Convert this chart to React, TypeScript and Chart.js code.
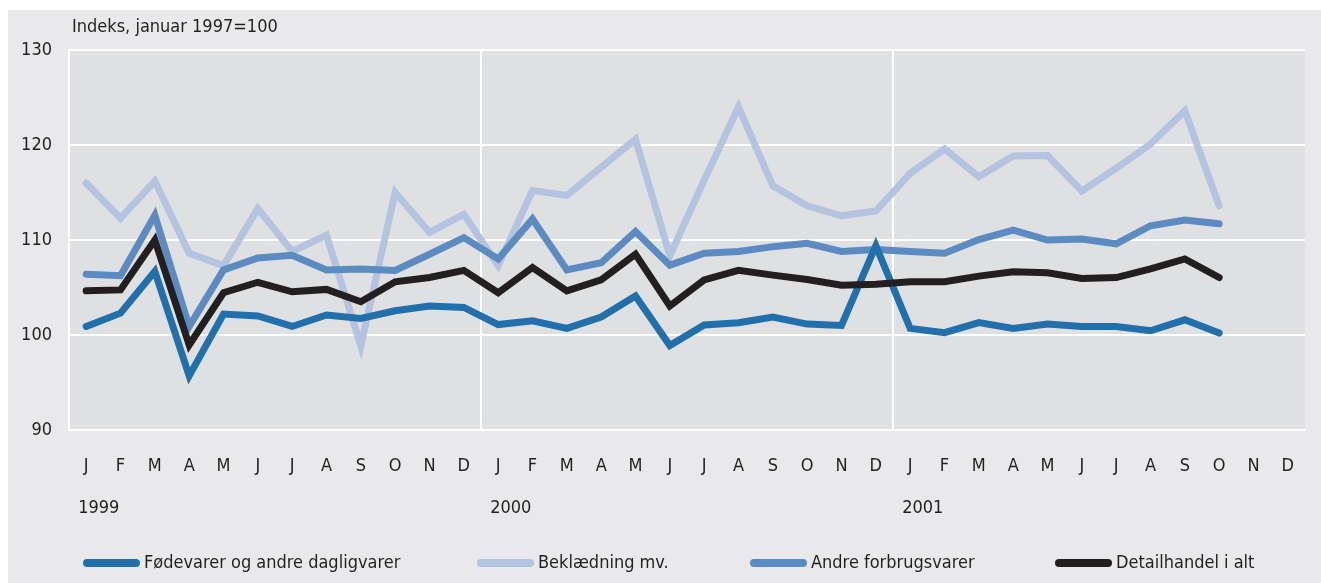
import React, { useEffect, useRef } from 'react';
import { Chart, registerables } from 'chart.js';

Chart.register(...registerables);

const months = ['J', 'F', 'M', 'A', 'M', 'J', 'J', 'A', 'S', 'O', 'N', 'D'];
const years = ['1999', '2000', '2001'];
const categories = years.flatMap((y) => months.map((m, i) => `${y}-${i + 1}`));

const yTicks = [90, 100, 110, 120, 130];
const titleText = 'Indeks, januar 1997=100';

const seriesNames = [
  'Fødevarer og andre dagligvarer',
  'Beklædning mv.',
  'Andre forbrugsvarer',
  'Detailhandel i alt',
];

const food = [
  100.9, 102.3, 106.7, 95.7, 102.2, 102.0, 100.9, 102.1, 101.75, 102.55, 103.05, 102.9,
  101.1, 101.5, 100.7, 101.9, 104.1, 98.9, 101.05, 101.3, 101.9, 101.15, 101.0, 109.4,
  100.7, 100.25, 101.3, 100.7, 101.15, 100.9, 100.9, 100.45, 101.6, 100.2, null, null,
];
const clothing = [
  116.0, 112.3, 116.2, 108.6, 107.3, 113.3, 108.8, 110.5, 98.85, 115.0, 110.8, 112.7,
  107.3, 115.2, 114.7, 117.65, 120.6, 108.35, 116.3, 124.0, 115.7, 113.6, 112.55, 113.05,
  117.0, 119.6, 116.65, 118.85, 118.9, 115.15, 117.55, 120.1, 123.6, 113.6, null, null,
];
const other = [
  106.4, 106.25, 112.6, 100.9, 106.85, 108.1, 108.4, 106.85, 106.95, 106.8, 108.5, 110.25,
  108.0, 112.2, 106.85, 107.6, 110.9, 107.35, 108.6, 108.8, 109.3, 109.65, 108.8, 109.0,
  108.8, 108.6, 110.05, 111.05, 110.0, 110.1, 109.6, 111.5, 112.1, 111.7, null, null,
];
const total = [
  104.65, 104.75, 110.0, 98.95, 104.45, 105.55, 104.55, 104.8, 103.5, 105.6, 106.05, 106.8,
  104.45, 107.1, 104.65, 105.8, 108.5, 103.05, 105.8, 106.8, 106.3, 105.85, 105.25, 105.35,
  105.6, 105.6, 106.2, 106.65, 106.55, 105.95, 106.05, 106.95, 108.0, 106.05, null, null,
];

const colors = ['#2270ab', '#b3c3e0', '#5b8bc0', '#231f20'];
const legendX = [75, 469, 742, 1047];

const FONT = "'Liberation Sans Narrow', 'DejaVu Sans Condensed', 'Arial Narrow', sans-serif";
const TEXT = '#231f20';
const FS = 18;

const decor = {
  id: 'decor',
  beforeDraw(chart: any) {
    const { ctx, chartArea: a, width, height } = chart;
    ctx.save();
    ctx.fillStyle = '#e9e9eb';
    ctx.fillRect(0, 0, width, height);
    ctx.fillStyle = '#dfe0e2';
    ctx.fillRect(a.left, a.top, a.right - a.left, a.bottom - a.top);
    ctx.restore();
  },
  afterDraw(chart: any) {
    const { ctx, chartArea: a } = chart;
    const xs = chart.scales.x;
    ctx.save();
    ctx.fillStyle = TEXT;
    ctx.font = `${FS}px ${FONT}`;
    ctx.textBaseline = 'middle';
    ctx.textAlign = 'left';
    ctx.fillText(titleText, a.left + 3, 17);
    years.forEach((y, i) => {
      const px = xs.getPixelForValue(i * 12);
      ctx.fillText(y, px - 8, 498);
    });
    seriesNames.forEach((name, i) => {
      const x0 = legendX[i];
      ctx.strokeStyle = colors[i];
      ctx.lineWidth = 8;
      ctx.lineCap = 'round';
      ctx.beginPath();
      ctx.moveTo(x0 + 4, 553);
      ctx.lineTo(x0 + 53, 553);
      ctx.stroke();
      ctx.fillText(name, x0 + 61, 553);
    });
    ctx.restore();
  },
};

export default function App() {
  const ref = useRef<HTMLCanvasElement | null>(null);
  useEffect(() => {
    if (!ref.current) return;
    const mk = (i: number, data: (number | null)[], order: number) => ({
      label: seriesNames[i],
      data,
      borderColor: colors[i],
      backgroundColor: colors[i],
      borderWidth: 7,
      pointRadius: 0,
      tension: 0,
      borderCapStyle: 'round' as const,
      borderJoinStyle: 'miter' as const,
      spanGaps: false,
      order,
    });
    const chart = new Chart(ref.current, {
      type: 'line',
      data: {
        labels: categories,
        datasets: [mk(0, food, 1), mk(1, clothing, 3), mk(2, other, 2), mk(3, total, 0)],
      },
      options: {
        responsive: false,
        animation: false,
        devicePixelRatio: 1,
        layout: { padding: { left: 0, top: 40, right: 16, bottom: 0 } },
        plugins: { legend: { display: false }, tooltip: { enabled: false } },
        scales: {
          x: {
            type: 'category',
            offset: true,
            grid: {
              offset: true,
              drawTicks: false,
              lineWidth: 2,
              color: (c: any) => (c.index % 12 === 0 ? '#ffffff' : 'rgba(0,0,0,0)'),
            },
            border: { color: '#ffffff', width: 2 },
            ticks: {
              autoSkip: false,
              maxRotation: 0,
              padding: 26,
              color: TEXT,
              font: { family: FONT, size: FS },
              callback: (_v: any, i: number) => months[i % 12],
            },
            afterFit: (s: any) => {
              s.height = 153;
            },
          },
          y: {
            min: yTicks[0],
            max: yTicks[yTicks.length - 1],
            grid: { drawTicks: false, lineWidth: 2, color: '#ffffff' },
            border: { color: '#ffffff', width: 2 },
            ticks: {
              stepSize: 10,
              padding: 17,
              color: TEXT,
              font: { family: FONT, size: FS },
            },
            afterFit: (s: any) => {
              s.width = 61;
            },
          },
        },
      },
      plugins: [decor],
    });
    return () => chart.destroy();
  }, []);
  return (
    <canvas
      ref={ref}
      width={1313}
      height={573}
      style={{ display: 'block', position: 'absolute', left: 8, top: 10 }}
    />
  );
}
